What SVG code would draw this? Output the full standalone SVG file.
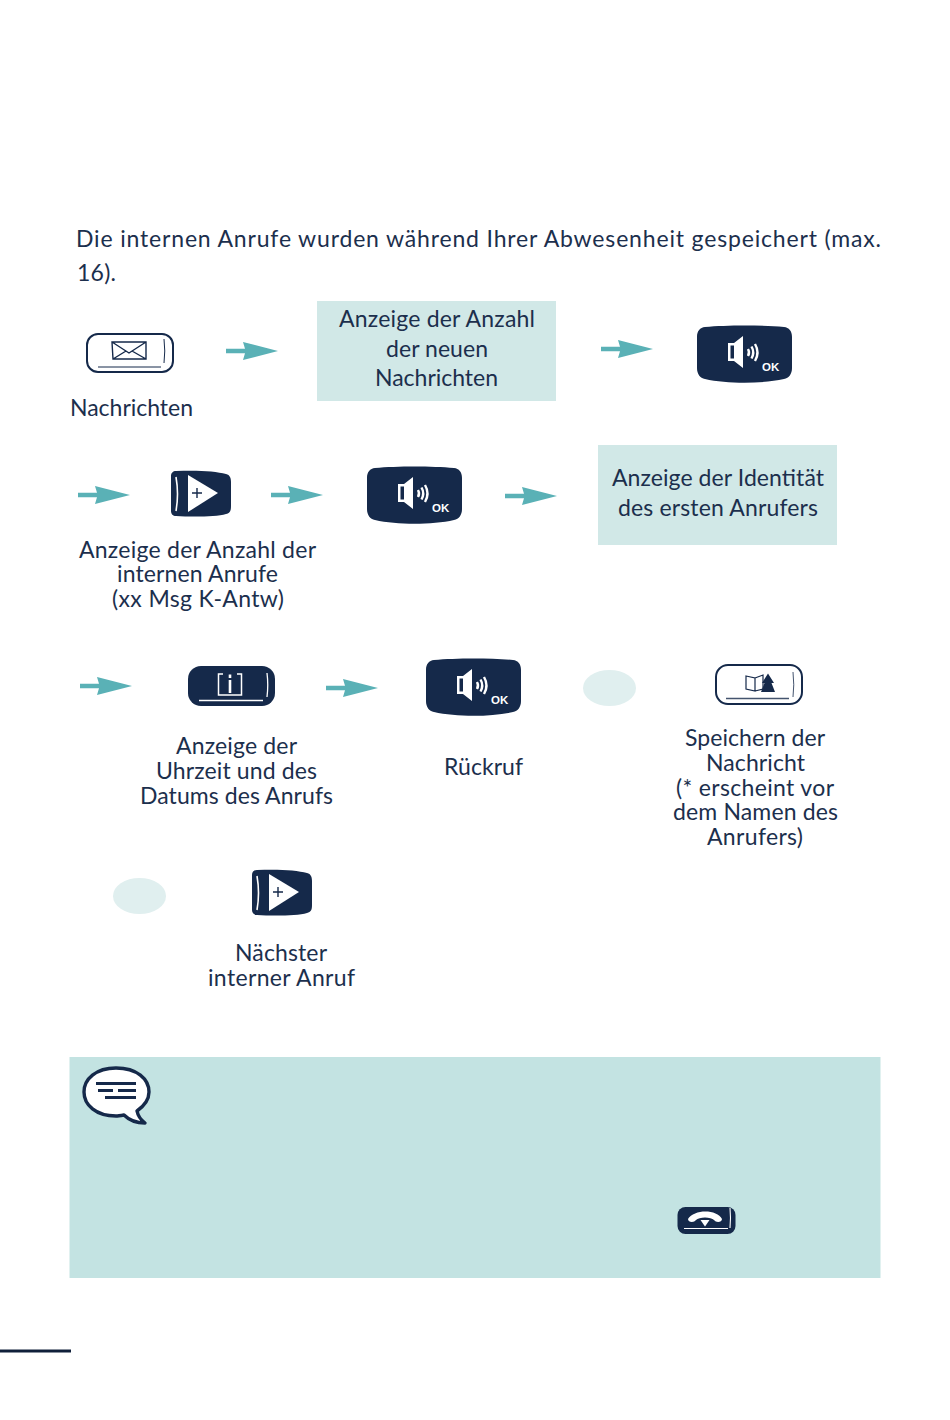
<svg xmlns="http://www.w3.org/2000/svg" xmlns:xlink="http://www.w3.org/1999/xlink" width="950" height="1420" viewBox="0 0 950 1420">
<style>
text{font-family:Lato,"Open Sans",sans-serif;font-size:23px;fill:#1c2f4d}
.c{text-anchor:middle}
.box{fill:#d1e8e7}
.dark{fill:#15294a}
.w{fill:#fff}
.wl{fill:none;stroke:#fff}
.dl{fill:none;stroke:#15294a}
.oval{fill:#e0efef}
.ok{font-family:"Liberation Sans",Arial,sans-serif;font-size:11.5px;font-weight:700;fill:#fff}
</style>
<defs>
<path id="arr" d="M0 -2.200H19L17 -9L52 0L17 9L19 2.200H0Z" fill="#5ab1b6"/>
<g id="okkey">
<path class="dark" d="M8 0C30 -2 65 -2 87 0C92 .5 95 4 95 10V41C95 47 92 51 87 52C65 57 30 57 8 52C3 51 0 47 0 41V10C0 4 3 .5 8 0Z"/>
<path class="w" fill-rule="evenodd" d="M31 16H37L46 9V41L37 34H31ZM33.500 18.500V31.500H37V18.500Z"/>
<path class="wl" d="M51 22Q53 25.500 51 29M54.500 19.500Q58 25.500 54.500 31.500M58 17Q63 25.500 58 34" stroke-width="2.400"/>
<text class="ok" x="65" y="44">OK</text>
</g>
<g id="pluskey">
<path class="dark" d="M5 0C25 -1 45 0 55 3C59 4 60 7 60 11V35C60 40 59 42 55 43C45 46 20 46 5 45C2 45 0 43 0 40V5C0 2 2 0 5 0Z"/>
<path class="wl" d="M5 6Q8 23 5 40" stroke-width="1.600"/>
<path class="w" d="M17 4L47 22L17 41Z"/>
<path d="M21 22H31M26 17V27" fill="none" stroke="#15294a" stroke-width="1.400"/>
</g>
</defs>
<rect width="950" height="1420" fill="#fff"/>
<g id="intro">
<text x="76" y="247" textLength="805">Die internen Anrufe wurden während Ihrer Abwesenheit gespeichert (max.</text>
<text x="77" y="281" textLength="39">16).</text>
</g>
<g id="connectors">
<use href="#arr" x="226" y="351"/>
<use href="#arr" x="601" y="349"/>
<use href="#arr" x="78" y="495"/>
<use href="#arr" x="271" y="495"/>
<use href="#arr" x="505" y="496"/>
<use href="#arr" x="80" y="686"/>
<use href="#arr" x="326" y="688"/>
</g>
<g id="key-nachrichten">
<rect x="87" y="334" width="86" height="38" rx="11" fill="#fff" stroke="#15294a" stroke-width="2"/>
<path class="dl" d="M98 367H161M164 339Q165.500 351 164 363" stroke-width="1"/>
<path d="M112 342H146V359H113ZM112 342L129 353L146 342M113 359L126 351M146 359L132 351" fill="none" stroke="#15294a" stroke-width="1.400"/>
<text x="70" y="416" textLength="123">Nachrichten</text>
</g>
<g id="box-anzahl">
<rect class="box" x="317" y="301" width="239" height="100"/>
<text class="c" x="437" y="326.500" textLength="196">Anzeige der Anzahl</text>
<text class="c" x="437" y="356.500" textLength="102">der neuen</text>
<text class="c" x="436.500" y="385.500" textLength="123">Nachrichten</text>
</g>
<g id="key-ok-1"><use href="#okkey" x="697" y="327"/></g>
<g id="key-plus-1">
<use href="#pluskey" x="171" y="471"/>
<text class="c" x="197.500" y="558" textLength="237">Anzeige der Anzahl der</text>
<text class="c" x="197.500" y="582" textLength="161">internen Anrufe</text>
<text class="c" x="198" y="607" textLength="172">(xx Msg K-Antw)</text>
</g>
<g id="key-ok-2"><use href="#okkey" x="367" y="468"/></g>
<g id="box-identitaet">
<rect class="box" x="598" y="445" width="239" height="100"/>
<text class="c" x="718" y="486" textLength="212">Anzeige der Identität</text>
<text class="c" x="718" y="516" textLength="200">des ersten Anrufers</text>
</g>
<g id="key-info">
<rect class="dark" x="188" y="666" width="87" height="40" rx="13"/>
<path class="wl" d="M199 700.500H263M267 673Q268.500 685 267 697" stroke-width="1.300"/>
<path class="wl" d="M223 674H218.500V695H241.500V674H237" stroke-width="1.500"/>
<path class="wl" d="M230 674.500V678M230 680V693" stroke-width="2.600"/>
<text class="c" x="236.500" y="754" textLength="121">Anzeige der</text>
<text class="c" x="236.500" y="779" textLength="161">Uhrzeit und des</text>
<text class="c" x="236.500" y="804" textLength="193">Datums des Anrufs</text>
</g>
<g id="key-ok-3">
<use href="#okkey" x="426" y="660"/>
<text x="444" y="775" textLength="79">Rückruf</text>
</g>
<g id="oval-1"><ellipse class="oval" cx="609.500" cy="688" rx="26.500" ry="18"/></g>
<g id="key-speichern">
<rect x="716" y="665" width="86" height="39" rx="12" fill="#fff" stroke="#15294a" stroke-width="2"/>
<path class="dl" d="M726 698.500H789" stroke-width="1.500" opacity=".8"/>
<path class="dl" d="M793 672Q794.500 685 793 697" stroke-width="1" opacity=".8"/>
<path d="M746 676L755 678V691L746 689ZM755 678L763 675V689L755 691" fill="none" stroke="#15294a" stroke-width="1.200"/>
<path class="dark" d="M768 673.500L774 683H771.500L775 692H761L764.500 683H762Z"/>
<text class="c" x="755" y="746" textLength="140">Speichern der</text>
<text class="c" x="755.500" y="771" textLength="99">Nachricht</text>
<text class="c" x="755" y="796" textLength="158">(* erscheint vor</text>
<text class="c" x="755.500" y="820" textLength="165">dem Namen des</text>
<text class="c" x="755" y="845" textLength="96">Anrufers)</text>
</g>
<g id="oval-2"><ellipse class="oval" cx="139.500" cy="896" rx="26.500" ry="18"/></g>
<g id="key-plus-2">
<use href="#pluskey" x="252" y="870"/>
<text class="c" x="281" y="961" textLength="92">Nächster</text>
<text class="c" x="281.500" y="986" textLength="147">interner Anruf</text>
</g>
<g id="note">
<rect x="69.500" y="1057" width="811" height="221" fill="#c3e3e2"/>
<path d="M116 1068C137 1068 149 1079 149 1092C149 1100 144 1106 137 1111C138 1116 141 1120 145 1123C137 1123 129 1120 124 1115C121 1115.500 118 1116 116 1116C96 1116 84 1105 84 1092C84 1079 96 1068 116 1068Z" fill="#fff" stroke="#15294a" stroke-width="3.400" stroke-linejoin="round"/>
<path d="M96 1083.500H136M98 1090.500H113M118 1090.500H136M105 1097.500H136" fill="none" stroke="#15294a" stroke-width="2.800"/>
</g>
<g id="key-hangup">
<rect class="dark" x="677.500" y="1207" width="58" height="27" rx="8"/>
<path class="wl" d="M684 1228.500H728M730 1208Q731 1218 730 1228" stroke-width="1.100"/>
<path class="w" d="M688 1219C694 1209 717 1209 722 1219C722 1222.500 716 1223 714 1220C711 1216.500 699 1216.500 696 1220C694 1223 688 1222.500 688 1219Z"/>
<path class="w" d="M700.500 1220H709.500L705 1226.500Z"/>
</g>
<g id="page-rule"><rect x="0" y="1349.500" width="71" height="3" fill="#10203a"/></g>
</svg>
